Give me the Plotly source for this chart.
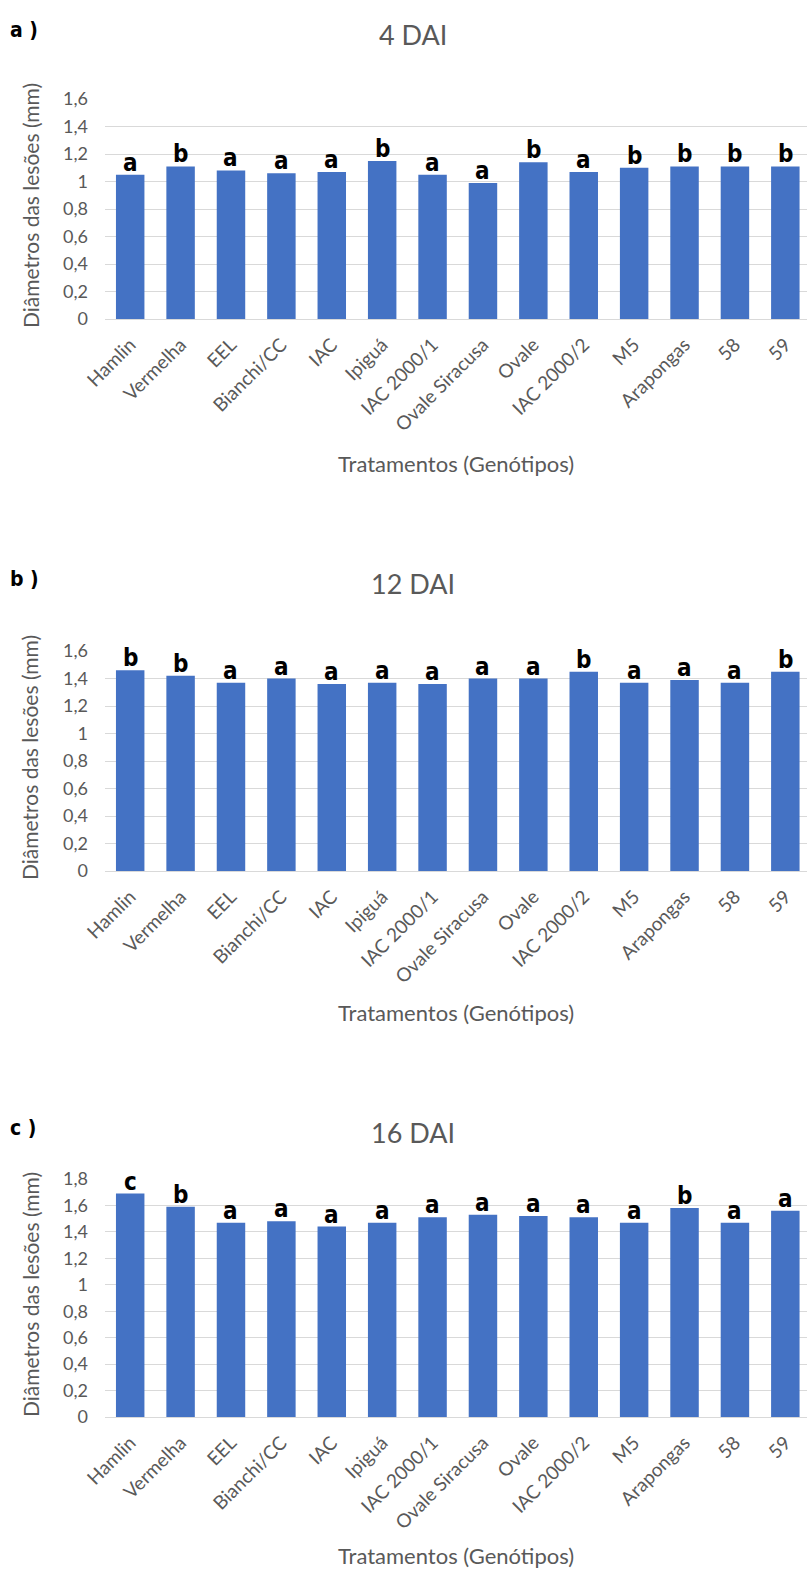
import plotly.graph_objects as go
from plotly.subplots import make_subplots

# Genotypes evaluated
genotipos = ["Hamlin", "Vermelha", "EEL", "Bianchi/CC", "IAC", "Ipiguá", "IAC 2000/1",
             "Ovale Siracusa", "Ovale", "IAC 2000/2", "M5", "Arapongas", "58", "59"]

# Lesion diameters (mm) at each evaluation date
diam_4dai = [1.05, 1.11, 1.08, 1.06, 1.07, 1.15, 1.05, 0.99, 1.14, 1.07, 1.10, 1.11, 1.11, 1.11]
diam_12dai = [1.46, 1.42, 1.37, 1.40, 1.36, 1.37, 1.36, 1.40, 1.40, 1.45, 1.37, 1.39, 1.37, 1.45]
diam_16dai = [1.69, 1.59, 1.47, 1.48, 1.44, 1.47, 1.51, 1.53, 1.52, 1.51, 1.47, 1.58, 1.47, 1.56]

# Mean-separation letters
letras_4dai = ["a", "b", "a", "a", "a", "b", "a", "a", "b", "a", "b", "b", "b", "b"]
letras_12dai = ["b", "b", "a", "a", "a", "a", "a", "a", "a", "b", "a", "a", "a", "b"]
letras_16dai = ["c", "b", "a", "a", "a", "a", "a", "a", "a", "a", "a", "b", "a", "a"]

titulos = ["4 DAI", "12 DAI", "16 DAI"]
rotulos_painel = ["a )", "b )", "c )"]
y_max = [1.6, 1.6, 1.8]

W, H = 807, 1573
BLUE = "#4472C4"
GRID = "#D9D9D9"
GRAY = "#595959"
FONT = "Lato, 'Open Sans', sans-serif"
NARROW = "'DejaVu Sans Condensed', 'Liberation Sans Narrow', 'DejaVu Sans', sans-serif"

# pixel layout of each panel: plot top, plot bottom, title y, x-title y
paineis = [
    dict(top=99, bottom=319, title_y=34, xtitle_y=463),
    dict(top=651, bottom=871, title_y=583, xtitle_y=1012),
    dict(top=1179, bottom=1417, title_y=1132, xtitle_y=1555),
]
PLOT_LEFT = 105


def py(px):
    return 1 - px / H


fig = make_subplots(rows=3, cols=1)
series = [diam_4dai, diam_12dai, diam_16dai]
letras = [letras_4dai, letras_12dai, letras_16dai]
xs = list(range(len(genotipos)))

annotations = []
for i, (vals, lets, p) in enumerate(zip(series, letras, paineis)):
    row = i + 1
    fig.add_trace(go.Bar(x=xs, y=vals, marker=dict(color=BLUE, line=dict(width=0)),
                         width=0.565, showlegend=False, hoverinfo="x+y"),
                  row=row, col=1)
    ax = "" if i == 0 else str(i + 1)
    fig.update_layout(**{
        f"xaxis{ax}": dict(domain=[PLOT_LEFT / W, 1.0], range=[-0.5, 13.43],
                           tickmode="array", tickvals=xs, ticktext=genotipos,
                           tickangle=-45, showgrid=False, zeroline=False,
                           showline=False, ticks="", automargin=False,
                           ticklabelstandoff=10,
                           tickfont=dict(family=FONT, size=19, color=GRAY)),
        f"yaxis{ax}": dict(domain=[py(p["bottom"]), py(p["top"])],
                           range=[0, y_max[i]], dtick=0.2, showgrid=True,
                           gridcolor=GRID, gridwidth=1, zeroline=True,
                           zerolinecolor=GRID, zerolinewidth=1, showline=False,
                           ticks="", ticklabelstandoff=16, automargin=False,
                           tickfont=dict(family=FONT, size=18, color=GRAY)),
    })
    xref = "x" if i == 0 else f"x{i + 1}"
    yref = "y" if i == 0 else f"y{i + 1}"
    for x, v, l in zip(xs, vals, lets):
        annotations.append(dict(x=x, y=v, xref=xref, yref=yref, text=l,
                                showarrow=False, yanchor="bottom", yshift=-4,
                                font=dict(family=NARROW, size=24, color="black",
                                          weight="bold")))
    # chart title
    annotations.append(dict(x=413 / W, y=py(p["title_y"]), xref="paper", yref="paper",
                            text=titulos[i], showarrow=False, xanchor="center",
                            yanchor="middle",
                            font=dict(family=FONT, size=27, color=GRAY)))
    # panel tag
    annotations.append(dict(x=8 / W, y=py(p["title_y"] - 4), xref="paper", yref="paper",
                            text=rotulos_painel[i], showarrow=False, xanchor="left",
                            yanchor="middle",
                            font=dict(family=NARROW, size=21, color="black",
                                      weight="bold")))
    # axis titles
    annotations.append(dict(x=(PLOT_LEFT + W) / 2 / W, y=py(p["xtitle_y"]),
                            xref="paper", yref="paper", text="Tratamentos (Genótipos)",
                            showarrow=False, xanchor="center", yanchor="middle",
                            font=dict(family=FONT, size=22, color=GRAY)))
    annotations.append(dict(x=30 / W, y=py((p["top"] + p["bottom"]) / 2 - 3),
                            xref="paper", yref="paper",
                            text="Diâmetros das lesões (mm)", textangle=-90,
                            showarrow=False, xanchor="center", yanchor="middle",
                            font=dict(family=FONT, size=21, color=GRAY)))

fig.update_layout(width=W, height=H,
                  margin=dict(l=0, r=0, t=0, b=0, autoexpand=False),
                  paper_bgcolor="white", plot_bgcolor="white",
                  separators=",.", bargap=0.4, annotations=annotations,
                  showlegend=False)

fig.write_html("out.html")
